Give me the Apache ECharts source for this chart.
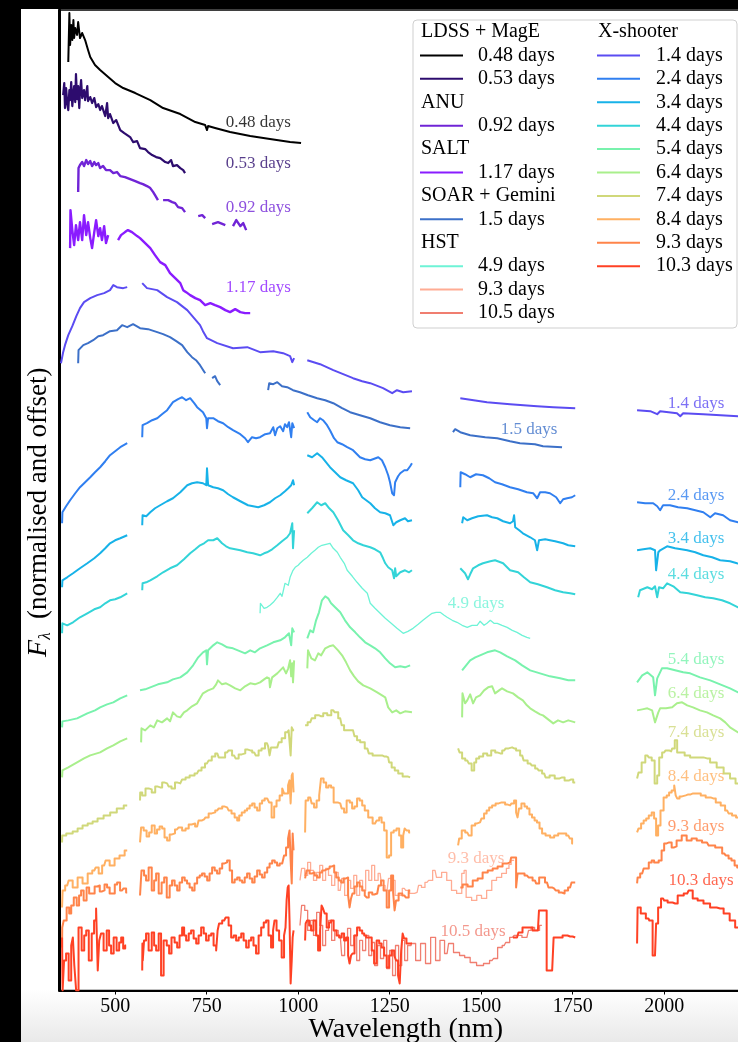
<!DOCTYPE html>
<html>
<head>
<meta charset="utf-8">
<script src="https://cdn.jsdelivr.net/npm/echarts@6/dist/echarts.min.js"></script>
<style>
html,body{margin:0;padding:0;background:#000;}
#panel{position:absolute;left:21px;top:9px;width:717px;height:1033px;background:linear-gradient(to bottom,#ffffff 0px,#ffffff 980px,#e9e9e9 1033px);}
#chart{position:absolute;left:0;top:0;width:738px;height:1042px;}
</style>
</head>
<body>
<div id="panel"></div>
<div id="chart"></div>
<script>
// ---------- DATA: wavelength (nm), normalised+offset flux; null = gap ----------
const xTicks = [500, 750, 1000, 1250, 1500, 1750, 2000];

const d048 = [[372,92.8],[375,97.7],[377,94.5],[380,96.5],[383,95.0],[386,97.0],[388,95.2],[391,96.2],[396,95.5],[399,96.8],[404,95.2],[410,95.7],[418,95.0],[426,94.0],[432,93.3],[445,92.5],[459,92.0],[481,91.3],[500,90.7],[522,90.2],[555,89.7],[596,89.0],[631,88.2],[678,87.6],[719,86.8],[746,86.5],[751,86.0],[754,86.4],[773,86.2],[814,85.8],[869,85.4],[923,85.1],[978,84.8],[1008,84.7]];

const d053 = [[358,89.5],[361,90.7],[363,88.2],[366,90.2],[369,88.7],[372,88.0],[375,90.0],[377,89.0],[380,90.8],[383,88.4],[386,89.7],[388,90.4],[391,88.8],[393,91.6],[396,89.1],[399,90.4],[402,88.2],[404,89.8],[407,91.0],[410,89.2],[415,90.0],[418,89.0],[424,90.4],[426,88.9],[432,89.3],[437,88.7],[443,89.2],[448,88.3],[454,88.6],[459,88.0],[464,88.4],[473,87.4],[478,88.7],[481,87.2],[486,87.6],[495,86.7],[503,87.0],[514,86.0],[525,85.7],[533,85.5],[541,85.3],[549,84.8],[560,84.9],[568,84.2],[582,84.1],[590,83.8],[601,83.5],[612,83.3],[623,83.2],[637,82.8],[645,82.7],[653,83.0],[658,82.4],[669,82.5],[678,82.2],[686,82.0],[691,81.7]];

const d092 = [[399,79.8],[400,82.2],[404,82.5],[410,82.8],[415,82.4],[421,83.0],[426,82.6],[432,82.9],[437,82.4],[443,82.8],[448,82.5],[454,82.7],[459,82.2],[467,82.4],[475,82.0],[486,82.0],[495,81.7],[505,81.8],[514,81.4],[527,81.3],[541,81.1],[555,80.9],[568,80.7],[576,80.6],[587,80.4],[596,80.2],[604,79.8],[609,79.5],[617,79.0],null,[631,79.0],[645,79.0],[656,78.8],[664,78.7],[672,78.3],[683,78.2],[691,77.8],null,[727,77.4],[738,77.5],[746,77.2],null,[765,76.6],[781,76.8],[801,76.5],null,[822,76.4],[831,77.0],[842,76.4],[850,76.7],[858,76.0]];

const d117 = [[377,74.2],[378,78.0],[383,76.0],[388,74.5],[393,76.5],[399,75.0],[404,76.8],[410,75.0],[415,77.5],[421,75.5],[426,76.8],[432,75.2],[437,74.2],[443,75.8],[448,77.0],[454,75.4],[459,76.2],[464,75.0],[470,76.4],[475,74.7],[481,75.5],null,[508,75.0],[516,75.5],[527,75.8],[535,76.0],[546,75.8],[560,75.4],[568,75.2],[582,74.7],[596,74.2],[609,73.5],[623,72.8],[637,72.5],[650,71.7],[664,71.2],[678,70.7],[686,70.0],[694,69.8],[705,69.5],[719,69.2],[732,69.0],[746,68.5],[760,68.7],[773,68.5],[787,68.3],[801,68.0],[814,67.8],[828,68.1],[842,67.8],[855,67.7],[869,67.7]];

const d15 = [[399,62.7],[400,64.0],[413,64.5],[426,64.7],[440,65.0],[454,65.4],[467,65.5],[486,65.9],[505,66.0],[519,66.5],[533,66.3],[549,66.6],[568,66.2],[590,66.1],[615,65.8],[631,65.6],[650,65.3],[667,64.9],[683,64.5],[697,63.8],[710,63.3],[721,63.0],[732,62.5],[746,61.7],null,[765,61.2],[773,61.4],[779,60.9],[787,60.5],null,[918,60.0],[921,60.7],[932,60.6],[943,60.8],[956,60.4],[970,60.3],[986,60.0],[1005,59.8],[1027,59.5],[1052,59.2],[1074,59.0],[1096,58.7],[1120,58.2],[1142,57.8],[1169,57.5],[1197,57.2],[1224,56.8],[1251,56.5],[1279,56.3],[1306,56.2],null,[1423,55.8],[1429,56.1],[1443,55.8],[1470,55.5],[1511,55.3],[1544,55.2],[1579,54.9],[1606,54.7],[1647,54.6],[1669,54.4],[1721,54.3]];

const d14 = [[352,62.7],[358,63.8],[363,64.5],[372,65.5],[383,66.4],[394,67.4],[404,68.2],[415,68.8],[432,69.2],[451,69.5],[470,69.7],[486,70.0],[495,70.5],[505,70.3],[522,70.2],[533,70.3],null,[574,70.7],[587,70.2],[615,70.0],[642,69.3],[669,68.8],[697,68.0],[732,66.5],[740,65.9],[751,65.2],[779,64.7],[822,64.2],[861,64.3],[896,63.8],[932,63.9],[959,63.7],[978,63.4],[984,62.8],[989,63.2],null,[1025,63.0],[1060,62.6],[1096,62.0],[1150,61.2],[1175,60.9],[1197,60.7],[1232,60.2],[1257,59.7],[1270,60.0],[1287,59.8],[1311,59.9],null,[1443,59.2],[1516,58.8],[1579,58.6],[1653,58.4],[1697,58.3],[1757,58.2],null,[1926,58.0],[1962,57.9],[1981,57.6],[1989,57.9],[2035,57.7],[2044,57.4],[2052,57.7],[2107,57.6],[2202,57.4],[2262,57.2]];

const d24 = [[355,46.7],[356,47.8],[366,48.4],[377,49.0],[391,49.7],[404,50.3],[418,50.8],[432,51.3],[445,51.8],[459,52.3],[473,52.9],[486,53.5],[500,53.9],[514,54.3],[533,54.7],null,[574,55.3],[575,56.5],[587,56.7],[601,57.0],[615,57.2],[628,57.6],[642,58.0],[658,58.8],[672,59.1],[683,59.3],[694,59.0],[705,59.2],[716,58.7],[724,58.3],[740,57.8],[749,57.2],[751,56.2],[754,57.2],[768,57.2],[781,56.9],[795,56.7],[809,56.3],[822,56.0],[842,55.6],[855,55.2],[863,54.8],[874,55.3],[885,55.2],[896,55.3],[910,55.6],[923,55.7],[932,56.3],[937,55.5],[943,56.2],[951,56.4],[959,55.9],[964,56.6],[970,56.3],[975,56.8],[981,55.3],[984,56.7],[989,56.2],null,[1025,57.8],[1033,57.3],[1044,57.0],[1052,56.8],[1060,57.2],[1068,57.0],[1079,56.5],[1087,56.0],[1098,55.2],[1107,54.8],[1120,54.6],[1134,54.3],[1150,54.0],[1169,53.3],[1183,53.1],[1197,53.0],[1219,53.3],[1229,53.0],[1238,52.3],[1246,51.5],[1251,50.8],[1257,49.7],[1262,49.5],[1265,50.8],[1273,51.4],[1279,51.7],[1290,52.0],[1298,52.0],[1306,52.4],[1311,52.7],null,[1443,50.3],[1444,51.8],[1456,51.6],[1470,51.3],[1486,51.6],[1505,51.5],[1522,51.2],[1538,50.8],[1557,50.6],[1579,50.3],[1601,50.1],[1625,49.8],[1642,49.7],[1653,49.2],[1661,49.8],[1675,49.8],[1688,49.7],[1705,49.3],[1716,48.7],[1724,49.1],[1735,49.2],[1748,49.3],[1757,49.5],null,[1926,48.8],[1948,48.7],[1970,48.7],[1981,48.4],[1989,48.0],[1997,48.5],[2016,48.5],[2038,48.3],[2063,48.2],[2085,48.0],[2107,47.8],[2126,47.3],[2139,47.7],[2161,47.5],[2180,47.0],[2202,46.8],[2262,46.4]];

const d34 = [[355,40.3],[356,41.0],[369,41.3],[385,41.7],[404,42.2],[424,42.7],[443,43.2],[459,43.7],[473,44.2],[486,44.7],[500,45.0],[514,45.2],[533,45.5],null,[574,46.5],[575,47.5],[585,47.4],[596,47.8],[609,48.2],[623,48.5],[642,48.9],[658,49.2],[678,49.8],[697,50.5],[710,50.7],[724,50.8],[740,50.7],[749,50.5],[751,52.2],[754,50.5],[768,50.3],[781,50.2],[795,50.0],[809,49.6],[822,49.3],[842,48.9],[863,48.5],[877,48.4],[891,48.3],[907,48.5],[923,48.8],[937,49.2],[951,49.5],[964,49.9],[973,50.2],[981,50.5],[986,51.0],[989,50.5],null,[1025,53.5],[1038,53.3],[1052,53.7],[1065,53.3],[1076,52.8],[1087,52.3],[1101,51.8],[1115,51.3],[1131,51.0],[1150,50.7],[1164,50.0],[1175,49.3],[1186,49.0],[1197,48.7],[1210,48.2],[1224,47.8],[1238,47.7],[1251,47.5],[1260,46.5],[1268,46.8],[1279,47.0],[1292,47.2],[1300,46.9],[1311,47.0],null,[1448,46.7],[1451,47.3],[1462,47.0],[1475,47.2],[1492,47.4],[1516,47.5],[1530,47.3],[1544,47.2],[1560,46.9],[1579,46.7],[1587,46.9],[1590,47.5],[1593,46.3],[1604,46.0],[1614,45.7],[1634,45.3],[1647,45.0],[1653,44.0],[1658,45.0],[1675,45.1],[1688,45.0],[1702,44.9],[1724,44.7],[1738,44.5],[1757,44.4],null,[1926,44.0],[1943,44.1],[1962,44.2],[1975,44.0],[1978,42.0],[1984,43.8],[1989,44.0],[2008,44.4],[2030,44.2],[2063,44.0],[2085,43.8],[2107,43.5],[2131,43.3],[2153,43.0],[2180,42.9],[2199,42.7],[2262,42.3]];

const d44 = [[355,35.7],[356,36.7],[369,36.5],[385,36.8],[404,37.3],[424,37.7],[443,38.1],[459,38.3],[473,38.7],[486,39.0],[500,39.1],[514,39.3],[533,39.7],null,[574,40.0],[575,40.7],[585,40.8],[596,41.0],[615,41.4],[631,41.8],[650,42.2],[669,42.5],[688,43.1],[705,43.7],[719,44.1],[732,44.5],[743,44.7],[754,45.0],[768,45.0],[779,45.2],[792,44.7],[803,44.4],[814,44.2],[828,44.1],[842,44.0],[861,43.8],[877,43.7],[896,43.5],[907,43.7],[915,43.8],[929,44.1],[943,44.5],[956,44.9],[970,45.3],[978,45.7],[984,46.7],[986,44.2],[989,46.0],null,[1025,47.7],[1038,48.2],[1052,48.8],[1063,48.5],[1074,48.7],[1085,48.2],[1096,47.8],[1109,47.0],[1123,46.0],[1137,45.5],[1150,45.0],[1164,44.7],[1178,44.5],[1197,44.3],[1210,44.1],[1224,43.8],[1232,43.2],[1238,42.7],[1246,42.3],[1257,42.0],[1262,41.2],[1265,42.2],[1268,41.4],[1279,41.8],[1292,42.0],[1303,41.8],[1311,42.0],null,[1443,42.2],[1456,41.7],[1464,41.1],[1470,41.6],[1478,42.2],[1492,42.5],[1505,42.7],[1525,42.9],[1538,43.0],[1560,42.7],[1579,42.0],[1601,41.8],[1617,41.3],[1634,40.8],[1655,40.6],[1680,40.3],[1702,40.0],[1724,39.8],[1743,39.7],[1757,39.6],null,[1929,39.3],[1934,40.0],[1954,40.3],[1967,40.1],[1975,40.4],[1981,39.3],[1986,40.3],[1997,40.2],[2008,40.7],[2025,40.4],[2044,39.8],[2066,39.7],[2090,39.5],[2112,39.3],[2134,39.2],[2158,39.0],[2180,38.7],[2202,38.3],[2262,37.8]];

const d49 = [[896,37.7],[897,38.7],[907,38.2],[915,38.3],[923,38.5],[932,38.8],[943,39.3],[951,39.7],[956,39.4],[964,40.7],[973,40.5],[978,41.3],[986,42.0],[992,42.3],[1000,42.5],[1005,42.7],[1014,43.0],[1025,43.3],[1036,43.7],[1046,44.0],[1055,44.3],[1065,44.5],[1076,44.6],[1087,44.7],[1096,44.2],[1107,43.8],[1115,43.3],[1126,42.7],[1134,42.0],[1148,41.4],[1161,40.8],[1175,40.2],[1189,39.7],[1197,38.7],[1210,38.2],[1224,37.7],[1238,37.2],[1251,36.8],[1270,36.2],[1287,35.7],[1300,35.9],[1314,36.2],[1328,36.6],[1341,37.0],[1355,37.4],[1366,37.7],[1377,37.8],[1388,37.8],[1399,37.5],[1407,37.3],[1421,37.0],[1434,36.8],[1448,36.5],[1462,36.3],[1475,36.5],[1489,36.5],[1497,36.9],[1508,36.5],[1516,36.7],[1525,37.0],[1535,36.7],[1544,36.7],[1557,36.5],[1571,36.3],[1585,36.0],[1598,35.8],[1612,35.5],[1625,35.3],[1634,35.2]];

const d54 = [[355,26.3],[356,26.9],[372,27.0],[396,27.2],[424,27.7],[445,28.0],[459,28.3],[478,28.6],[495,28.8],[514,29.2],[533,29.5],null,[568,30.0],[582,30.1],[596,30.3],[617,30.6],[642,30.8],[658,31.1],[678,31.3],[697,31.8],[713,32.5],[727,33.3],[740,33.8],[749,34.0],[751,32.6],[754,34.0],[768,34.5],[779,34.8],[792,34.6],[806,34.3],[822,34.2],[842,33.9],[855,33.7],[869,34.0],[882,33.8],[896,34.2],[915,34.5],[932,34.8],[951,35.0],[964,35.3],[975,35.7],[981,34.5],[984,36.2],[989,35.8],null,[1025,35.2],[1033,36.0],[1041,35.8],[1049,37.0],[1057,37.8],[1065,39.0],[1074,39.4],[1082,39.2],[1090,38.7],[1101,38.3],[1115,37.8],[1128,37.0],[1142,36.3],[1156,35.8],[1169,35.3],[1183,34.8],[1197,34.5],[1210,34.2],[1224,33.8],[1238,33.2],[1251,32.7],[1265,32.3],[1279,32.4],[1292,32.3],[1306,32.5],null,[1448,32.0],[1459,32.5],[1470,33.0],[1484,33.3],[1497,33.5],[1516,33.8],[1538,34.0],[1552,33.8],[1571,33.4],[1593,33.0],[1612,32.5],[1634,32.0],[1661,31.7],[1688,31.4],[1716,31.2],[1738,31.0],[1757,31.0],null,[1926,30.8],[1940,31.5],[1954,31.8],[1970,31.3],[1975,29.5],[1981,31.2],[1994,32.2],[2008,32.2],[2030,32.0],[2052,31.8],[2071,31.7],[2098,31.3],[2126,31.0],[2153,30.6],[2180,30.2],[2202,29.8],[2262,29.3]];

const d64 = [[355,21.3],[356,22.0],[372,22.3],[396,22.8],[415,23.2],[432,23.5],[459,23.8],[478,24.2],[495,24.5],[514,24.9],[533,25.2],null,[571,24.8],[572,26.2],[582,26.0],[596,26.5],[606,26.3],[615,27.0],[628,26.8],[642,27.2],[650,26.9],[658,27.8],[669,27.4],[678,27.3],[688,27.8],[697,28.0],[710,28.4],[724,28.7],[732,29.2],[740,29.7],[754,30.0],[768,30.2],[776,30.6],[781,31.0],[792,30.6],[803,30.7],[814,30.5],[828,30.2],[842,30.0],[855,30.4],[869,30.7],[882,30.6],[896,30.8],[907,31.1],[915,31.3],[921,31.2],[923,30.3],[929,31.3],[943,31.7],[951,32.0],[959,32.3],[967,31.7],[973,32.2],[978,33.0],[981,31.4],[984,32.7],[986,30.8],[989,33.0],null,[1025,32.2],[1027,34.0],[1036,33.2],[1046,33.0],[1055,33.7],[1063,33.5],[1074,34.2],[1085,34.4],[1096,34.5],[1109,34.0],[1120,33.5],[1131,32.8],[1142,32.0],[1153,31.4],[1164,30.9],[1178,30.5],[1197,30.2],[1216,29.8],[1238,29.3],[1246,28.3],[1257,27.8],[1268,28.0],[1279,27.7],[1292,27.9],[1311,27.8],null,[1448,27.3],[1449,29.7],[1456,28.7],[1462,29.0],[1470,29.6],[1478,28.7],[1486,29.3],[1497,29.5],[1508,30.0],[1519,30.3],[1530,30.4],[1538,29.7],[1549,30.0],[1557,30.2],[1571,29.9],[1587,29.7],[1601,29.3],[1614,29.0],[1625,28.5],[1634,28.2],[1647,27.9],[1661,27.6],[1669,27.5],[1683,27.1],[1697,26.7],[1710,27.0],[1724,26.8],[1738,27.0],[1757,26.8],null,[1926,28.0],[1940,28.1],[1954,28.2],[1967,28.0],[1975,26.8],[1984,27.8],[1989,28.2],[2005,28.2],[2022,28.3],[2035,28.7],[2049,28.8],[2063,28.5],[2079,28.3],[2098,28.0],[2117,27.8],[2134,27.5],[2153,27.2],[2167,26.8],[2180,26.3],[2202,25.8],[2262,25.2]];

const d74 = [[355,14.8],[356,15.5],[377,15.7],[391,15.9],[404,16.2],[418,16.5],[432,16.7],[445,16.9],[459,17.2],[478,17.5],[495,17.8],[514,18.2],[533,18.5],null,[568,19.0],[569,19.8],[579,19.5],[587,20.2],[596,20.1],[604,19.8],[615,20.4],[623,20.3],[634,20.8],[642,20.7],[650,20.4],[658,20.2],[669,20.8],[678,20.7],[688,21.1],[697,21.3],[710,21.5],[724,21.7],[732,22.0],[740,22.3],[751,22.7],[760,23.0],[768,23.4],[779,23.7],[787,23.3],[795,23.3],[806,23.8],[814,24.0],[825,23.5],[833,23.2],[842,23.6],[850,23.7],[861,24.1],[869,24.0],[880,23.8],[888,23.5],[896,24.0],[904,24.2],[915,24.7],[921,24.4],[923,23.5],[929,24.3],[943,24.3],[951,24.8],[959,25.2],[970,25.8],[978,26.0],[981,23.5],[984,26.3],[989,26.0],null,[1019,26.5],[1033,26.8],[1041,27.2],[1052,27.5],[1063,27.4],[1074,27.7],[1085,27.5],[1096,28.0],[1104,27.8],[1115,27.2],[1123,26.5],[1128,26.0],[1142,26.0],[1150,26.0],[1158,25.4],[1164,25.0],[1175,24.8],[1189,24.2],[1197,23.7],[1210,23.5],[1224,23.5],[1235,23.4],[1246,23.3],[1251,22.8],[1260,22.3],[1268,22.0],[1279,21.7],[1292,21.4],[1306,21.3],null,[1437,24.2],[1445,23.8],[1451,23.2],[1462,23.0],[1470,22.7],[1478,22.0],[1484,22.8],[1489,23.2],[1500,23.4],[1511,23.7],[1522,23.5],[1533,24.0],[1544,23.8],[1552,23.7],[1563,24.0],[1571,24.2],[1579,24.3],[1590,24.2],[1601,24.0],[1612,23.5],[1620,23.0],[1634,22.7],[1642,22.5],[1653,22.2],[1661,22.0],[1672,21.7],[1680,21.3],[1694,21.5],[1708,21.2],[1721,21.3],[1735,21.0],[1746,21.1],[1757,20.8],null,[1926,21.2],[1934,21.8],[1943,22.8],[1954,23.5],[1962,23.3],[1970,23.0],[1978,20.7],[1984,21.5],[1989,23.3],[2000,23.8],[2008,24.0],[2019,23.9],[2025,24.2],[2033,25.0],[2038,23.8],[2049,23.8],[2063,23.5],[2079,23.3],[2098,23.3],[2117,23.2],[2134,22.8],[2153,22.3],[2172,21.7],[2188,21.2],[2202,20.7],[2262,20.0]];

const d84 = [[355,8.3],[358,10.0],[369,10.5],[377,11.0],[391,10.3],[404,11.3],[418,10.7],[432,11.7],[443,12.0],[451,12.3],[459,11.7],[470,12.5],[478,13.0],[492,12.5],[505,13.2],[519,13.5],[533,14.0],null,[568,14.8],[574,16.3],[582,16.0],[590,15.4],[596,15.8],[604,16.5],[612,15.7],[617,16.1],[626,16.4],[631,16.2],[639,15.3],[645,15.0],[653,15.6],[658,15.7],[669,16.1],[678,16.3],[688,16.0],[697,16.2],[705,16.6],[713,16.7],[724,16.4],[732,17.0],[743,17.1],[751,17.3],[760,17.7],[768,17.8],[779,18.0],[787,18.2],[798,18.4],[806,18.3],[814,18.0],[822,17.7],[831,17.3],[836,17.0],[842,17.5],[850,17.8],[858,18.0],[863,18.2],[872,18.5],[877,18.7],[885,18.3],[891,18.0],[899,18.7],[904,19.0],[913,19.2],[918,19.3],[923,18.8],[932,17.3],[937,18.4],[945,19.0],[954,19.5],[959,20.2],[964,19.7],[970,19.7],[975,20.5],[978,21.0],[981,18.7],[984,21.5],[986,21.7],[989,19.8],null,[1019,15.8],[1022,19.0],[1033,19.3],[1041,18.7],[1046,18.3],[1055,19.0],[1060,19.5],[1065,21.2],[1074,20.8],[1079,20.3],[1087,20.5],[1093,20.3],[1101,18.8],[1115,18.7],[1123,18.2],[1128,17.8],[1137,19.0],[1145,18.8],[1150,18.2],[1158,18.4],[1164,19.2],[1172,19.0],[1178,18.5],[1186,18.0],[1197,17.3],[1210,16.7],[1219,17.0],[1224,17.3],[1232,16.8],[1238,16.0],[1246,13.3],[1251,13.5],[1257,15.8],[1265,16.0],[1273,16.2],[1279,15.5],[1284,14.3],[1290,15.5],[1292,16.2],[1300,16.0],[1306,15.8],null,[1437,14.5],[1443,15.2],[1451,16.0],[1462,15.8],[1470,15.5],[1478,16.5],[1489,16.7],[1497,16.8],[1505,17.2],[1511,17.7],[1519,18.0],[1525,18.3],[1535,18.5],[1544,18.7],[1552,18.8],[1560,18.8],[1571,18.6],[1579,18.5],[1587,18.7],[1593,19.0],[1598,17.8],[1601,17.3],[1606,18.2],[1614,18.7],[1623,18.4],[1628,18.2],[1636,17.6],[1642,17.3],[1650,17.0],[1655,16.8],[1664,16.2],[1669,15.7],[1683,15.5],[1694,15.3],[1705,15.5],[1716,15.7],[1727,15.7],[1738,15.5],[1746,15.2],[1751,14.7],null,[1926,15.8],[1934,16.2],[1940,16.7],[1948,17.0],[1954,17.2],[1962,17.5],[1970,17.8],[1975,17.2],[1981,15.5],[1986,16.5],[1994,18.0],[2003,19.3],[2011,19.5],[2016,19.8],[2025,20.0],[2030,20.5],[2033,19.5],[2038,19.2],[2046,19.4],[2052,19.5],[2066,19.6],[2079,19.7],[2093,19.7],[2107,19.5],[2120,19.3],[2134,19.2],[2148,18.8],[2161,18.5],[2172,18.0],[2180,17.7],[2191,17.5],[2202,17.3],[2262,16.8]];

const d93x = [[355,4.3],[356,6.3],[363,7.0],[372,8.3],[377,7.7],[383,8.5],[391,9.3],[399,8.5],[404,9.5],[410,10.0],[418,9.0],[426,10.3],[432,9.7],[440,9.7],[448,10.4],[454,10.5],[462,9.9],[467,10.0],[475,10.6],[481,10.3],[489,9.7],[495,9.7],[503,10.6],[508,10.8],[519,10.0],[527,10.2],[533,9.8],null,[568,9.5],[576,12.0],[582,11.5],[587,11.0],[596,12.3],[604,10.0],[609,11.0],[615,11.7],[623,9.7],[631,10.8],[637,11.3],[645,9.3],[653,10.5],[658,11.0],[667,10.5],[672,10.0],[680,10.8],[686,11.3],[694,11.0],[699,10.7],[708,10.3],[713,10.0],[721,10.7],[727,11.3],[735,11.5],[740,11.7],[749,11.4],[754,11.0],[762,11.7],[768,12.3],[776,12.0],[781,11.7],[790,12.2],[795,12.7],[803,12.8],[809,13.0],[817,12.0],[822,10.8],[831,11.1],[836,11.3],[844,11.0],[850,10.8],[858,11.3],[863,11.7],[872,11.2],[877,10.8],[885,11.4],[891,12.0],[899,11.6],[904,11.3],[913,11.8],[918,12.3],[926,12.7],[932,13.0],[940,12.8],[945,12.5],[954,12.7],[959,12.8],[964,13.5],[970,14.3],[975,15.2],[978,16.0],[981,13.0],[984,10.7],[986,15.7],[989,14.0],null,[1019,11.2],[1027,12.0],[1036,11.7],[1041,11.8],[1049,11.5],[1055,11.3],[1063,11.8],[1068,12.0],[1076,12.1],[1082,12.2],[1090,12.4],[1096,12.5],[1101,11.8],[1107,11.3],[1115,11.0],[1120,10.8],[1128,11.2],[1134,11.3],[1139,9.5],[1142,8.3],[1147,9.2],[1150,9.7],[1158,10.4],[1164,10.8],[1172,10.4],[1178,10.0],[1186,9.5],[1189,9.3],[1197,9.8],[1208,9.6],[1216,9.7],[1224,10.5],[1229,11.0],[1238,10.0],[1246,8.3],[1251,10.0],[1257,11.5],[1262,9.8],[1265,8.0],[1270,9.0],[1279,9.7],[1290,9.5],[1298,9.3],[1306,10.0],null,[1443,10.3],[1456,10.6],[1470,10.4],[1484,11.0],[1497,11.2],[1511,11.8],[1525,12.0],[1538,12.2],[1552,12.4],[1565,12.7],[1579,12.8],[1585,13.3],[1593,13.3],[1598,10.3],[1601,11.7],[1612,11.7],[1625,11.5],[1634,11.3],[1647,11.0],[1653,10.7],[1664,11.3],[1669,11.3],[1680,10.8],[1688,10.3],[1699,10.2],[1708,10.0],[1716,9.8],[1724,9.7],[1732,10.0],[1743,10.3],[1751,10.8],[1757,10.8],null,[1926,10.7],[1929,11.3],[1940,11.7],[1948,12.2],[1954,12.2],[1962,12.8],[1970,13.0],[1975,12.8],[1981,12.8],[1989,13.0],[1997,14.0],[2003,14.7],[2011,14.8],[2016,14.8],[2025,14.3],[2030,14.4],[2038,15.0],[2044,15.0],[2052,15.5],[2057,15.5],[2066,15.0],[2071,15.0],[2079,15.2],[2085,15.2],[2093,15.0],[2098,15.0],[2109,14.8],[2117,14.8],[2126,14.5],[2134,14.5],[2145,14.3],[2153,14.3],[2164,13.7],[2172,13.5],[2180,13.2],[2188,13.0],[2197,12.5],[2202,12.3],[2262,11.7]];

const d103 = [[355,5.3],[358,0.0],[363,3.0],[369,3.7],[377,1.0],[383,4.5],[386,5.3],[391,2.5],[396,0.0],[404,6.3],[413,4.0],[418,5.5],[424,6.0],[432,3.0],[440,5.7],[445,7.0],[451,8.2],[454,2.0],[459,5.0],[464,5.7],[473,4.0],[481,6.0],[486,4.5],[492,3.7],[500,5.3],[508,4.0],[514,4.8],[519,5.3],[525,4.2],[530,4.5],null,[574,2.0],[575,4.7],[576,3.0],[582,5.0],[587,5.7],[596,4.0],[604,5.8],[609,4.5],[615,4.0],[623,5.7],[628,1.5],[637,5.0],[645,4.5],[650,3.7],[658,5.3],[667,4.8],[672,4.3],[680,5.5],[686,6.3],[691,5.5],[697,5.0],[705,5.7],[710,6.0],[719,5.2],[724,4.7],[732,5.5],[738,6.3],[746,5.7],[751,5.0],[760,5.5],[765,5.7],[773,4.5],[779,4.0],[781,6.0],[787,6.7],[798,7.0],[806,7.3],[814,6.5],[820,5.3],[828,5.5],[833,5.0],[842,5.3],[847,5.7],[855,5.0],[861,4.3],[869,5.0],[874,5.3],[882,4.5],[888,3.7],[896,5.5],[902,6.3],[910,6.8],[915,7.0],[923,5.5],[929,4.3],[934,6.0],[937,7.0],[945,6.0],[951,5.0],[959,3.3],[964,5.5],[967,6.3],[970,9.0],[973,10.3],[975,10.5],[978,7.0],[981,0.7],[984,3.0],[986,5.3],[989,6.0],null,[1019,5.0],[1022,6.7],[1027,7.0],[1033,6.5],[1038,6.0],[1046,7.0],[1052,5.5],[1057,4.0],[1063,6.0],[1065,8.5],[1071,8.2],[1074,7.7],[1082,6.3],[1087,6.8],[1093,7.0],[1101,6.0],[1109,5.5],[1115,5.3],[1123,5.7],[1128,5.0],[1134,5.3],[1139,3.5],[1142,2.7],[1147,3.5],[1150,3.7],[1158,5.5],[1164,6.3],[1172,6.0],[1178,5.7],[1183,5.5],[1189,5.3],[1197,5.3],[1205,4.0],[1210,2.7],[1219,5.0],[1224,4.7],[1232,4.3],[1238,3.5],[1246,2.3],[1251,3.5],[1260,4.0],[1265,3.5],[1270,3.0],[1276,1.5],[1279,0.7],[1284,4.0],[1287,5.7],[1292,5.2],[1300,4.7],[1311,4.7],null,[1587,5.3],[1598,5.3],[1606,5.8],[1620,6.3],[1634,6.3],[1647,6.0],[1655,6.0],[1661,8.0],[1669,8.0],[1675,8.0],[1683,2.0],[1694,2.0],[1702,5.3],[1716,5.3],[1729,5.5],[1743,5.4],[1757,5.3],null,[1926,4.7],[1929,8.3],[1943,7.7],[1957,7.2],[1962,7.0],[1975,3.5],[1981,6.7],[1986,8.3],[1997,9.2],[2003,9.0],[2016,8.8],[2030,8.7],[2044,9.5],[2063,9.7],[2071,10.0],[2085,9.2],[2098,9.0],[2117,8.7],[2134,8.3],[2153,8.2],[2172,7.7],[2186,7.0],[2202,6.3],[2262,5.6]];

const d93h = [[1005,11.0],[1014,12.2],[1022,11.5],[1030,12.8],[1038,12.0],[1046,11.0],[1055,11.8],[1063,12.5],[1071,11.0],[1079,12.2],[1087,11.5],[1096,10.5],[1104,11.8],[1115,10.0],[1123,11.2],[1131,9.5],[1139,11.0],[1148,10.2],[1156,11.5],[1164,9.5],[1172,11.0],[1180,10.0],[1189,12.0],[1197,11.0],[1205,12.5],[1213,11.0],[1224,11.7],[1232,10.5],[1243,10.0],[1251,11.2],[1260,11.0],[1270,9.5],[1279,9.5],[1290,10.2],[1298,10.0],[1311,9.7],[1325,9.8],[1333,10.5],[1341,10.3],[1352,10.8],[1361,11.0],[1374,12.0],[1382,11.3],[1388,11.3],[1396,11.8],[1402,11.8],[1410,11.0],[1415,11.0],[1423,10.0],[1429,10.0],[1437,9.7],[1443,9.7],[1451,11.7],[1456,12.0],[1462,9.3],[1470,9.3],[1478,9.0],[1484,9.0],[1492,9.5],[1497,9.5],[1505,9.2],[1511,9.2],[1519,10.0],[1525,10.0],[1533,11.0],[1538,11.0],[1546,11.3],[1552,11.3],[1560,11.7],[1565,11.7],[1573,12.2],[1579,12.6],[1585,13.0],[1590,13.0]];

const d105 = [[1005,6.5],[1014,8.5],[1022,8.0],[1030,6.0],[1038,7.0],[1046,5.5],[1055,7.8],[1063,6.5],[1071,4.5],[1079,6.0],[1087,7.0],[1096,5.0],[1104,6.0],[1115,5.5],[1123,3.5],[1131,5.0],[1139,6.2],[1148,4.5],[1156,5.5],[1164,3.0],[1172,5.0],[1180,4.0],[1189,5.5],[1197,3.5],[1205,4.8],[1213,2.5],[1221,4.5],[1229,3.2],[1238,5.0],[1246,2.2],[1254,4.0],[1262,1.5],[1270,4.5],[1279,2.5],[1287,5.0],[1295,3.0],[1303,4.5],[1314,4.7],[1328,3.0],[1341,4.7],[1355,2.7],[1369,5.3],[1382,3.0],[1393,5.0],[1407,3.7],[1415,4.7],[1434,3.8],[1448,3.5],[1462,3.3],[1478,2.8],[1497,2.5],[1516,2.7],[1530,3.0],[1538,3.2],[1552,4.3],[1563,4.5],[1571,4.8],[1585,5.3],[1595,5.5],[1606,5.5],[1617,5.3],[1625,5.3],[1634,6.0],[1639,6.3],[1653,6.0],[1666,6.5]];

// ---------- STYLE / META ----------
const FONT = 'Liberation Serif';
const spectra = [
  {name:'0.48 days', group:'LDSS + MagE', data:d048, color:'#000000', width:2.0, step:false, label:[891,86.8]},
  {name:'0.53 days', group:'LDSS + MagE', data:d053, color:'#2d0c6e', width:2.2, step:false, label:[891,82.7]},
  {name:'0.92 days', group:'ANU', data:d092, color:'#7024d6', width:2.4, step:false, label:[891,78.3]},
  {name:'1.17 days', group:'SALT', data:d117, color:'#8a1cff', width:2.4, step:false, label:[891,70.3]},
  {name:'1.5 days', group:'SOAR + Gemini', data:d15, color:'#3c70c8', width:2.0, step:false, label:[1631,56.1]},
  {name:'4.9 days', group:'HST', data:d49, color:'#6ef3d6', width:1.3, step:false, label:[1486,38.7]},
  {name:'9.3 days', group:'HST', data:d93h, color:'#ffac94', width:1.3, step:true, label:[1486,13.2]},
  {name:'10.5 days', group:'HST', data:d105, color:'#f07e70', width:1.3, step:true, label:[1478,5.9]},
  {name:'1.4 days', group:'X-shooter', data:d14, color:'#5b4cf2', width:2.0, step:false, label:[2087,58.7]},
  {name:'2.4 days', group:'X-shooter', data:d24, color:'#307ff0', width:2.0, step:false, label:[2087,49.5]},
  {name:'3.4 days', group:'X-shooter', data:d34, color:'#17b2e8', width:2.0, step:false, label:[2087,45.2]},
  {name:'4.4 days', group:'X-shooter', data:d44, color:'#33d4d8', width:2.0, step:false, label:[2087,41.6]},
  {name:'5.4 days', group:'X-shooter', data:d54, color:'#78f2ad', width:2.0, step:false, label:[2087,33.1]},
  {name:'6.4 days', group:'X-shooter', data:d64, color:'#a9ef8c', width:2.0, step:false, label:[2087,29.7]},
  {name:'7.4 days', group:'X-shooter', data:d74, color:'#d0d87a', width:2.0, step:true, label:[2087,25.8]},
  {name:'8.4 days', group:'X-shooter', data:d84, color:'#ffb062', width:2.0, step:true, label:[2087,21.4]},
  {name:'9.3 days', group:'X-shooter', data:d93x, color:'#ff844a', width:2.0, step:true, label:[2087,16.4]},
  {name:'10.3 days', group:'X-shooter', data:d103, color:'#ff4124', width:2.0, step:true, label:[2101,11.0]}
];
const legendColumns = [
  ['LDSS + MagE','ANU','SALT','SOAR + Gemini','HST'],
  ['X-shooter']
];

// ---------- BUILD ----------
function segments(arr){
  const out=[]; let cur=[];
  arr.forEach(p=>{ if(p===null){ if(cur.length) out.push(cur); cur=[]; } else cur.push(p); });
  if(cur.length) out.push(cur);
  return out;
}
const series=[];
spectra.forEach(s=>{
  segments(s.data).forEach(seg=>{
    series.push({type:'line', data:seg, showSymbol:false, symbol:'none', silent:true, animation:false,
      step: s.step ? 'middle' : false, clip:true,
      lineStyle:{color:s.color, width:s.width, join:'round'}, z:3});
  });
  series.push({type:'scatter', data:[s.label], symbolSize:0, silent:true, animation:false, z:5,
    label:{show:true, position:'inside', formatter:s.name, color:s.color, fontFamily:FONT, fontSize:17}});
});

// legend (custom, grouped with sub-headings)
const gfx=[{type:'rect', shape:{x:413,y:20,width:324,height:308,r:4}, style:{fill:'rgba(255,255,255,0.85)', stroke:'#cfcfcf', lineWidth:1}, z:10}];
const colX=[[421,420,463,478],[598,597,640,656]];
legendColumns.forEach((groups,ci)=>{
  let row=0; const [tx,lx0,lx1,ix]=colX[ci];
  groups.forEach(g=>{
    const yc=32+row*23.42; row++;
    gfx.push({type:'text', x:tx, y:yc, style:{text:g, font:'20px "'+FONT+'"', fill:'#000', textVerticalAlign:'middle', textAlign:'left'}, z:11});
    spectra.filter(s=>s.group===g).forEach(s=>{
      const y=32+row*23.42; row++;
      gfx.push({type:'line', shape:{x1:lx0,y1:y,x2:lx1,y2:y}, style:{stroke:s.color, lineWidth:2}, z:11});
      gfx.push({type:'text', x:ix, y:y, style:{text:s.name, font:'20px "'+FONT+'"', fill:'#000', textVerticalAlign:'middle', textAlign:'left'}, z:11});
    });
  });
});

const chart=echarts.init(document.getElementById('chart'),null,{renderer:'canvas',width:738,height:1042});
chart.setOption({
  backgroundColor:'transparent',
  animation:false,
  grid:{left:59.5, top:10, right:-14, bottom:51.5, show:true, borderColor:'#000', borderWidth:1.5, containLabel:false, outerBoundsMode:'none'},
  xAxis:{type:'value', min:348, max:2240,
    axisLine:{show:true, onZero:false, lineStyle:{color:'#000', width:2}},
    axisTick:{show:true, customValues:xTicks, length:4, inside:false, lineStyle:{color:'#000', width:1}},
    axisLabel:{customValues:xTicks, formatter:v=>String(v), fontFamily:FONT, fontSize:20, color:'#000', margin:6},
    splitLine:{show:false},
    name:'Wavelength (nm)', nameLocation:'middle', nameGap:25, nameMoveOverlap:false,
    nameTextStyle:{fontFamily:FONT, fontSize:28, color:'#000'}},
  yAxis:{type:'value', min:0, max:98,
    axisLine:{show:true, onZero:false, lineStyle:{color:'#000', width:3}},
    axisTick:{show:false}, axisLabel:{show:false}, splitLine:{show:false},
    name:'{f|F}{s|λ}{t|  (normalised and offset)}', nameLocation:'middle', nameGap:5, nameRotate:90, nameMoveOverlap:false,
    nameTextStyle:{fontFamily:FONT, fontSize:27, color:'#000', padding:[0,24,0,0],
      rich:{f:{fontFamily:FONT, fontSize:28, fontStyle:'italic', color:'#000'},
            s:{fontFamily:FONT, fontSize:17, fontStyle:'italic', color:'#000', padding:[14,0,0,0]},
            t:{fontFamily:FONT, fontSize:27, color:'#000'}}}},
  graphic:gfx,
  series:series
});
</script>
</body>
</html>
